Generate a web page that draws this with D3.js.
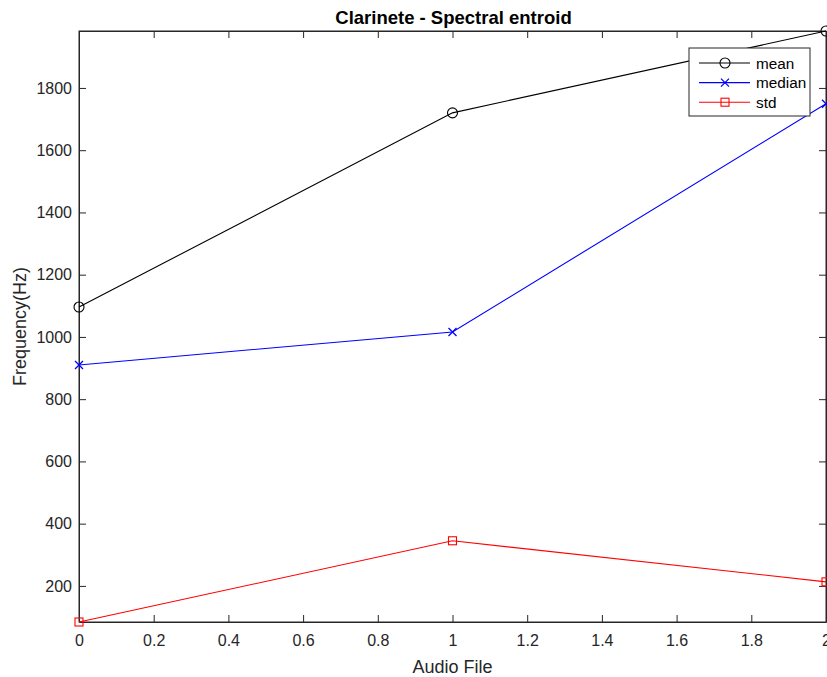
<!DOCTYPE html>
<html><head><meta charset="utf-8">
<script src="https://cdn.jsdelivr.net/npm/d3@7"></script>
<style>body{margin:0;background:#fff;} text{font-family:"Liberation Sans",Arial,sans-serif;}</style>
</head><body>
<svg id="c" width="827" height="677"></svg>
<script>
const xValues = [0, 1, 2];
const meanValues = [1096, 1720, 1983];
const medianValues = [910, 1016, 1749];
const stdValues = [84, 345, 213];
const xTicks = [0,0.2,0.4,0.6,0.8,1,1.2,1.4,1.6,1.8,2];
const yTicks = [200,400,600,800,1000,1200,1400,1600,1800];
const seriesNames = ["mean","median","std"];
const seriesColors = ["#000000","#0000ff","#ff0000"];
const seriesMarkers = ["circle","cross","square"];

const svg = d3.select("#c");
const L=79,R=826,T=31,B=622;
const x = d3.scaleLinear().domain([0,2]).range([L,R]);
const y = d3.scaleLinear().domain([84,1983]).range([B,T]);
const axisColor="#262626";

const g = svg.append("g");
g.append("rect").attr("x",L).attr("y",T).attr("width",R-L).attr("height",B-T).attr("fill","#fff").attr("stroke",axisColor).attr("stroke-width",1);

const xb = g.append("g").attr("transform",`translate(0,${B})`).call(d3.axisBottom(x).tickValues(xTicks).tickSizeInner(-7).tickSizeOuter(0).tickPadding(13).tickFormat(d3.format("~g")));
const xt = g.append("g").attr("transform",`translate(0,${T})`).call(d3.axisTop(x).tickValues(xTicks).tickSizeInner(-7).tickSizeOuter(0).tickFormat(""));
const yl = g.append("g").attr("transform",`translate(${L},0)`).call(d3.axisLeft(y).tickValues(yTicks).tickSizeInner(-7).tickSizeOuter(0).tickPadding(7).tickFormat(d3.format("d")));
const yr = g.append("g").attr("transform",`translate(${R},0)`).call(d3.axisRight(y).tickValues(yTicks).tickSizeInner(-7).tickSizeOuter(0).tickFormat(""));
[xb,xt,yl,yr].forEach(a=>{
  a.select(".domain").attr("stroke",axisColor);
  a.selectAll(".tick line").attr("stroke",axisColor);
  a.selectAll(".tick text").attr("fill",axisColor).style("font-size","16px").style("font-family","Liberation Sans, Arial, sans-serif");
});

const allSeries=[meanValues,medianValues,stdValues];
function drawMarker(sel,type,color,cx,cy){
  if(type==="circle") sel.append("circle").attr("cx",cx).attr("cy",cy).attr("r",5).attr("fill","none").attr("stroke",color).attr("stroke-width",1.1);
  else if(type==="cross") sel.append("path").attr("d",`M${cx-4},${cy-4}L${cx+4},${cy+4}M${cx-4},${cy+4}L${cx+4},${cy-4}`).attr("stroke",color).attr("stroke-width",1.3).attr("fill","none");
  else sel.append("rect").attr("x",cx-4).attr("y",cy-4).attr("width",8).attr("height",8).attr("fill","none").attr("stroke",color).attr("stroke-width",1.1);
}
const line = d3.line().x((d,i)=>x(xValues[i])).y(d=>y(d));
allSeries.forEach((vals,si)=>{
  g.append("path").datum(vals).attr("d",line).attr("fill","none").attr("stroke",seriesColors[si]).attr("stroke-width",1.1);
  vals.forEach((v,i)=>drawMarker(g,seriesMarkers[si],seriesColors[si],x(xValues[i]),y(v)));
});

svg.append("text").attr("x",453.5).attr("y",24).attr("text-anchor","middle").style("font-weight","bold").style("font-size","18.5px").attr("fill","#000").text("Clarinete - Spectral entroid");
svg.append("text").attr("x",(L+R)/2).attr("y",673).attr("text-anchor","middle").style("font-size","18px").attr("fill",axisColor).text("Audio File");
svg.append("text").attr("transform",`translate(26,${(T+B)/2}) rotate(-90)`).attr("text-anchor","middle").style("font-size","18px").attr("fill",axisColor).text("Frequency(Hz)");

const lg = svg.append("g");
lg.append("rect").attr("x",689).attr("y",48).attr("width",121).attr("height",68).attr("fill","#fff").attr("stroke",axisColor).attr("stroke-width",1);
seriesNames.forEach((n,i)=>{
  const cy=63+i*19.6;
  lg.append("line").attr("x1",699).attr("x2",750).attr("y1",cy).attr("y2",cy).attr("stroke",seriesColors[i]).attr("stroke-width",1.1);
  drawMarker(lg,seriesMarkers[i],seriesColors[i],725,cy);
  lg.append("text").attr("x",756).attr("y",cy+5.5).style("font-size","15.3px").attr("fill","#000").text(n);
});
</script>
</body></html>
